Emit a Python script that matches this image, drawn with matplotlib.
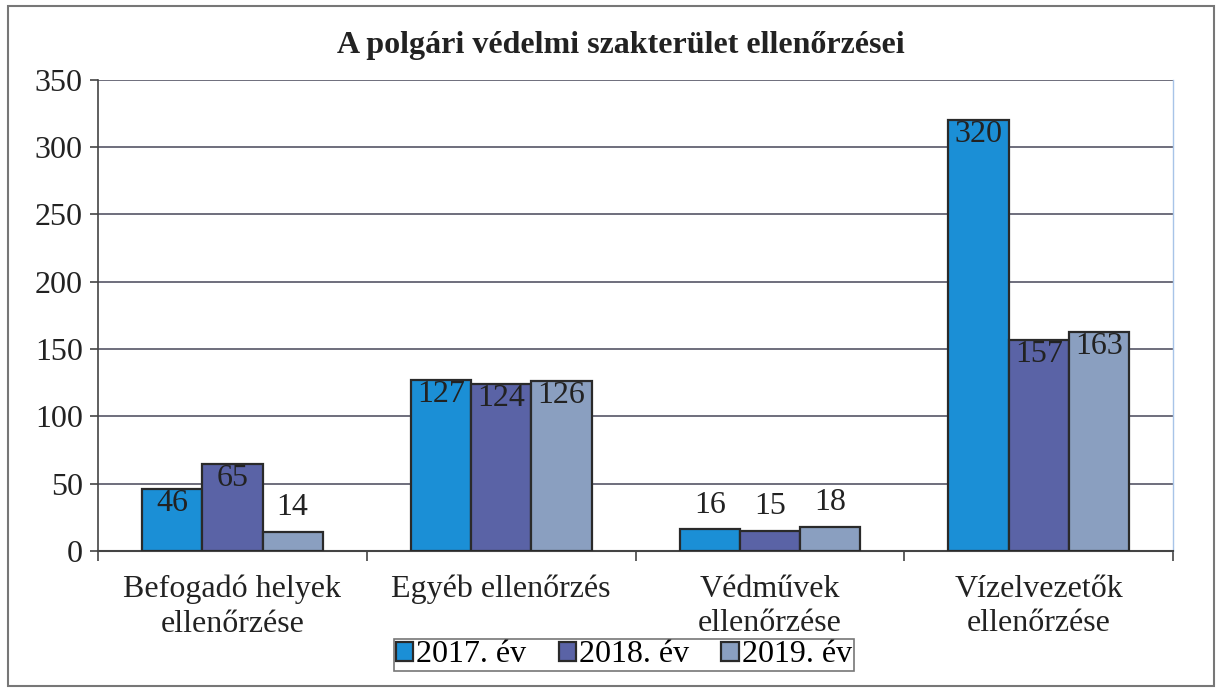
import numpy as np
from matplotlib import pyplot as plt
from matplotlib.patches import Rectangle

categories = ["Befogadó helyek\nellenőrzése", "Egyéb ellenőrzés", "Védművek\nellenőrzése", "Vízelvezetők\nellenőrzése"]
series_names = ["2017. év", "2018. év", "2019. év"]
v2017 = [46, 127, 16, 320]
v2018 = [65, 124, 15, 157]
v2019 = [14, 126, 18, 163]
colors = ["#1b8fd6", "#5a63a6", "#8a9fc0"]

plt.rcParams['font.family'] = ['Liberation Serif', 'DejaVu Serif']
fs = 23

fig = plt.figure(figsize=(12.19, 6.9), dpi=100)
ax = fig.add_axes([0.0804, 0.2014, 0.882, 0.683])

x = np.arange(len(categories))
w = 0.224
for i, (vals, c, name) in enumerate(zip([v2017, v2018, v2019], colors, series_names)):
    pos = x + (i - 1) * w
    ax.bar(pos, vals, width=w, color=c, edgecolor="#2a2a2a", linewidth=1.6, label=name, zorder=3)
    for p, v in zip(pos, vals):
        if v > 40:
            ax.annotate(str(v), (p, v), xytext=(0, 0), textcoords="offset points",
                        ha="center", va="top", fontsize=fs, color="#222222", zorder=4)
        else:
            ax.annotate(str(v), (p, v), xytext=(0, 7), textcoords="offset points",
                        ha="center", va="bottom", fontsize=fs, color="#222222", zorder=4)

ax.set_xlim(-0.5, len(categories) - 0.5)
ax.set_ylim(0, 350)
ax.set_yticks(np.arange(0, 351, 50))
ax.grid(axis="y", color="#555566", linewidth=1.2, zorder=0)
ax.set_axisbelow(True)

ax.set_xticks(np.arange(-0.5, len(categories), 1.0))
ax.set_xticklabels([])
ax.set_xticks(x, minor=True)
ax.set_xticklabels(categories, minor=True, fontsize=fs, color="#222222", linespacing=1.25)
ax.tick_params(axis="x", which="minor", length=0, pad=17)
ax.tick_params(axis="x", which="major", length=7, width=1.2, color="#444444", direction="out")
ax.tick_params(axis="y", length=6, width=1.2, color="#444444", labelsize=fs, labelcolor="#222222", pad=5)

ax.spines["left"].set_color("#444444")
ax.spines["left"].set_linewidth(1.2)
ax.spines["bottom"].set_color("#444444")
ax.spines["bottom"].set_linewidth(1.5)
ax.spines["top"].set_visible(False)
ax.spines["right"].set_color("#a8c4e8")
ax.spines["right"].set_linewidth(1.0)

fig.text(0.509, 1 - 46 / 690, "A polgári védelmi szakterület ellenőrzései",
         ha="center", va="center", fontsize=fs, fontweight="bold", color="#222222")

leg = fig.legend(loc="center", bbox_to_anchor=(624 / 1219, 1 - 655 / 690), ncol=3,
                 fontsize=fs, frameon=True, fancybox=False, edgecolor="#555555",
                 handlelength=0.55, handleheight=0.55, handletextpad=0.1, columnspacing=1.0,
                 borderpad=0.05, borderaxespad=0)
leg.get_frame().set_linewidth(1.2)

fig.patches.append(Rectangle((8 / 1219, 4 / 690), 1206 / 1219, 680 / 690, transform=fig.transFigure,
                             fill=False, edgecolor="#777777", linewidth=1.5))

fig.savefig("out.png", dpi=100)
